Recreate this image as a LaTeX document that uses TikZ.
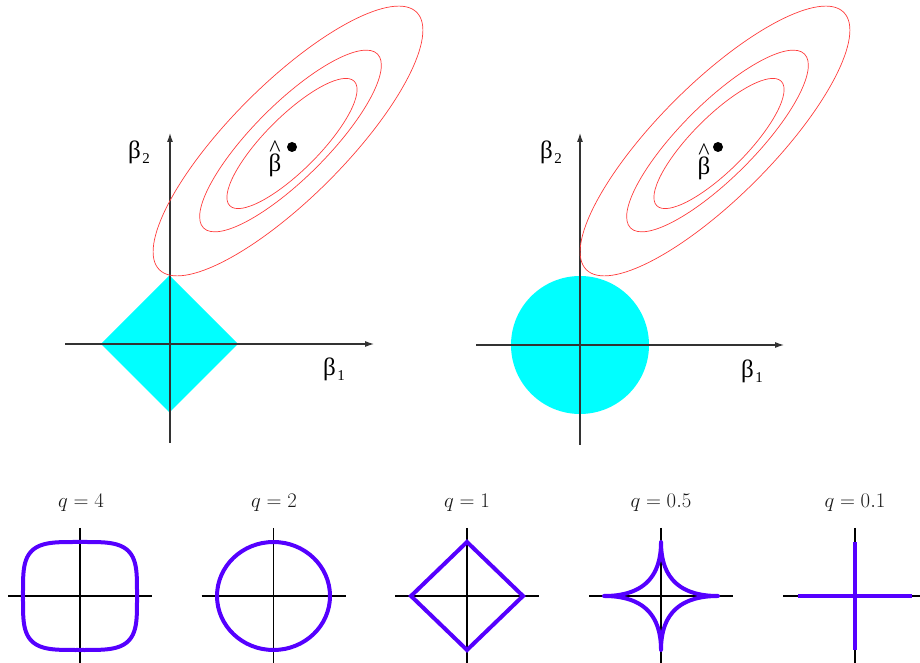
\documentclass[tikz,border=0pt]{standalone}
\usepackage{fontspec}
\newfontfamily\gk{Liberation Serif}
\usetikzlibrary{arrows.meta}
\definecolor{cyanfill}{RGB}{0,255,255}
\definecolor{ellred}{RGB}{255,60,60}
\definecolor{qpurple}{RGB}{85,0,255}
\newcommand{\sbeta}[1]{β\kern1.5pt\raisebox{-5pt}{\fontsize{15}{15}\selectfont #1}}
\newcommand{\hbeta}{\ooalign{\hfil\raisebox{15pt}{\fontsize{24}{24}\selectfont\textasciicircum}\hfil\cr β}}
\begin{document}
\begin{tikzpicture}[x=1pt,y=1pt,
  axisline/.style={line width=1.1pt, black!80, -{Latex[length=9pt,width=6pt]}},
  contour/.style={ellred, line width=0.7pt},
  qcurve/.style={qpurple, line width=4pt, line join=round},
  qaxis/.style={black, line width=1.4pt},
  glabel/.style={font=\gk\fontsize{25}{26}\selectfont, inner sep=0pt, text=black},
  qlabel/.style={font=\fontsize{20}{22}\selectfont, inner sep=0pt, anchor=base, text=black!90},
  bdot/.style={circle, fill=black, inner sep=0pt, minimum size=10pt}]
\useasboundingbox (0,0) rectangle (920,663);

% ---------- left panel (lasso) ----------
\coordinate (O1) at (169.5,319);
\fill[cyanfill] (O1) +(-68.5,0) -- +(0,68.5) -- +(68.5,0) -- +(0,-68.5) -- cycle;
\coordinate (h1s) at (65,319);
\coordinate (h1e) at (374,319);
\coordinate (v1s) at (170,220);
\coordinate (v1e) at (170,530);
\draw[axisline] (h1s) -- (h1e);
\draw[axisline] (v1s) -- (v1e);
\draw[contour] (288,522) ellipse [x radius=182, y radius=57, rotate=45];
\draw[contour] (290.5,522) ellipse [x radius=123, y radius=37, rotate=45];
\draw[contour] (292,519.5) ellipse [x radius=88, y radius=27, rotate=45];
\node[bdot] (dot1) at (292,516) {};
\node[glabel, anchor=base] (bh1) at (275,491) {\hbeta};
\node[glabel] (b2l) at (139,511) {\sbeta{2}};
\node[glabel] (b1l) at (334,294) {\sbeta{1}};

% ---------- right panel (ridge) ----------
\coordinate (O2) at (580,318);
\fill[cyanfill] (O2) circle (69);
\coordinate (h2s) at (476,318);
\coordinate (h2e) at (784,318);
\coordinate (v2s) at (580,218);
\coordinate (v2e) at (580,530);
\draw[axisline] (h2s) -- (h2e);
\draw[axisline] (v2s) -- (v2e);
\draw[contour] (715,522) ellipse [x radius=182, y radius=57, rotate=45];
\draw[contour] (717.5,522) ellipse [x radius=123, y radius=37, rotate=45];
\draw[contour] (719,519.5) ellipse [x radius=88, y radius=27, rotate=45];
\node[bdot] (dot2) at (718,516) {};
\node[glabel, anchor=base] (bh2) at (704,488) {\hbeta};
\node[glabel] (b2r) at (551,511) {\sbeta{2}};
\node[glabel] (b1r) at (752,292) {\sbeta{1}};

% ---------- bottom row ----------
\foreach \cx/\nm in {80/a,273.5/b,467/c,661/d,855/e}{
  \coordinate (hs\nm) at (\cx-72,67);
  \coordinate (he\nm) at (\cx+72,67);
  \coordinate (vs\nm) at (\cx,135);
  \coordinate (ve\nm) at (\cx,-2);
  \draw[qaxis] (hs\nm) -- (he\nm);
  \draw[qaxis] (vs\nm) -- (ve\nm);
}
% q = 4
\draw[qcurve] plot[domain=0:360, samples=241]
  ({80+57*cos(\x)*pow(pow(cos(\x),4)+pow(sin(\x),4),-0.25)},
   {67+54*sin(\x)*pow(pow(cos(\x),4)+pow(sin(\x),4),-0.25)}) -- cycle;
% q = 2
\draw[qcurve] (273.5,67) ellipse [x radius=56.5, y radius=54];
% q = 1
\draw[qcurve, line join=miter] (411,67) -- (467,121) -- (523,67) -- (467,13) -- cycle;
% q = 0.5
\draw[qcurve] plot[domain=0:360, samples=361]
  ({661+57*pow(cos(\x),3)*abs(cos(\x))},
   {67+54*pow(sin(\x),3)*abs(sin(\x))}) -- cycle;
% q = 0.1
\draw[qcurve, line cap=butt] (798,67) -- (912,67);
\draw[qcurve, line cap=butt] (855,121) -- (855,13);

\node[qlabel] (qa) at (81,155) {$q=4$};
\node[qlabel] (qb) at (274,155) {$q=2$};
\node[qlabel] (qc) at (467,155) {$q=1$};
\node[qlabel] (qd) at (661,155) {$q=0.5$};
\node[qlabel] (qe) at (855,155) {$q=0.1$};
\end{tikzpicture}
\end{document}
